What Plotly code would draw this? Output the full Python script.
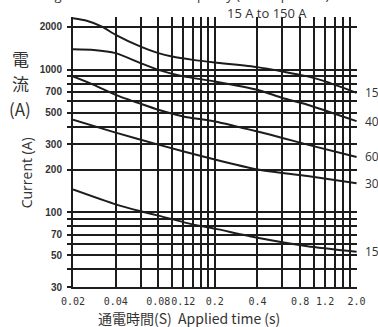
import math
import plotly.graph_objects as go

# ---- data ----
t150 = [0.02, 0.025, 0.032, 0.04, 0.06, 0.08, 0.1, 0.14, 0.2, 0.4, 0.6, 0.9, 1.2, 2.0]
i150 = [2300, 2210, 2010, 1760, 1455, 1310, 1240, 1175, 1125, 1045, 975, 900, 830, 690]

t40 = [0.02, 0.028, 0.04, 0.06, 0.08, 0.12, 0.2, 0.4, 0.6, 0.9, 2.0]
i40 = [1395, 1380, 1310, 1115, 1000, 900, 830, 725, 635, 570, 437]

t60 = [0.02, 0.028, 0.04, 0.06, 0.08, 0.12, 0.2, 0.4, 0.6, 0.9, 2.0]
i60 = [898, 785, 668, 578, 525, 471, 435, 370, 333, 299, 245]

t30 = [0.02, 0.04, 0.08, 0.2, 0.4, 0.9, 2.0]
i30 = [447, 363, 299, 235, 200, 180, 160]

t15 = [0.02, 0.04, 0.06, 0.08, 0.14, 0.2, 0.4, 0.9, 2.0]
i15 = [145, 114, 102, 95, 82.5, 77, 66.5, 58, 53]

series = [
    ("150 A", t150, i150),
    ("40 A", t40, i40),
    ("60 A", t60, i60),
    ("30 A", t30, i30),
    ("15 A", t15, i15),
]

x_grid = [0.02, 0.04, 0.06, 0.08, 0.10, 0.12, 0.14, 0.16, 0.18, 0.2,
          0.4, 0.6, 0.8, 1.0, 1.2, 1.4, 1.6, 1.8, 2.0]
x_labels = {0.02: "0.02", 0.04: "0.04", 0.08: "0.08", 0.12: "0.12", 0.2: "0.2",
            0.4: "0.4", 0.8: "0.8", 1.2: "1.2", 2.0: "2.0"}
y_grid = [30, 40, 50, 60, 70, 80, 90, 100, 200, 300, 400, 500, 600, 700, 800, 900, 1000, 2000]
y_labels = {30: "30", 50: "50", 70: "70", 100: "100", 200: "200", 300: "300",
            500: "500", 700: "700", 1000: "1000", 2000: "2000"}

INK = "#1c1c1c"

fig = go.Figure()
for name, t, v in series:
    fig.add_trace(go.Scatter(x=t, y=v, mode="lines", name=name,
                             line=dict(color=INK, width=2, shape="spline", smoothing=0.6),
                             showlegend=False, hoverinfo="skip"))

fig.update_layout(
    width=378, height=327,
    margin=dict(l=73, r=19, t=17, b=40),
    paper_bgcolor="white", plot_bgcolor="white",
    showlegend=False,
)

fig.update_xaxes(
    type="log",
    range=[math.log10(0.02), math.log10(2.0) + 0.003],
    tickvals=x_grid,
    ticktext=[x_labels.get(v, "") for v in x_grid],
    tickangle=0,
    ticks="", showgrid=True, gridcolor=INK, gridwidth=1.5,
    showline=True, linecolor=INK, linewidth=2,
    tickfont=dict(family="DejaVu Sans Mono", size=10, color="#333"),
    ticklabelstandoff=4,
    zeroline=False,
)
fig.update_yaxes(
    type="log",
    range=[math.log10(30), math.log10(2348)],
    tickvals=y_grid,
    ticktext=[y_labels.get(v, "") for v in y_grid],
    ticks="outside", ticklen=4, tickwidth=1.5, tickcolor=INK,
    showgrid=True, gridcolor=INK, gridwidth=1.5,
    showline=True, linecolor=INK, linewidth=2,
    tickfont=dict(family="Liberation Sans", size=10, color="#333", weight="bold"),
    ticklabelstandoff=3,
    zeroline=False,
)

# right-side curve labels (cut by the image edge, as in the reference)
for name, t, v in series:
    fig.add_annotation(text=name, xref="paper", x=1.0, xshift=6, xanchor="left",
                       yref="y", y=math.log10(v[-1]), yanchor="middle",
                       showarrow=False,
                       font=dict(family="Open Sans", size=12, color="#333"))

# titles
fig.add_annotation(text="Surge current withstand capacity (non-repetitive)",
                   xref="paper", x=(334 - 73) / 286, xanchor="right",
                   yref="paper", y=(287 + 5) / 270, yanchor="middle",
                   showarrow=False, font=dict(family="Open Sans", size=13, color="#333"))
fig.add_annotation(text="15 A to 150 A",
                   xref="paper", x=(268 - 73) / 286, xanchor="center",
                   yref="paper", y=(287 - 13) / 270, yanchor="middle",
                   showarrow=False, font=dict(family="Open Sans", size=13, color="#333"))
fig.add_annotation(text="通電時間(S)  Applied time (s)",
                   xref="paper", x=(190 - 73) / 286, xanchor="center",
                   yref="paper", y=(287 - 318) / 270, yanchor="middle",
                   showarrow=False, font=dict(family="Noto Sans CJK JP", size=14, color="#333"))
fig.add_annotation(text="Current (A)", textangle=-90,
                   xref="paper", x=(27 - 73) / 286, xanchor="center",
                   yref="paper", y=(287 - 173) / 270, yanchor="middle",
                   showarrow=False, font=dict(family="Open Sans", size=14, color="#333"))
for txt, py in [("電", 58), ("流", 83), ("(A)", 108)]:
    fig.add_annotation(text=txt,
                       xref="paper", x=(20 - 73) / 286, xanchor="center",
                       yref="paper", y=(287 - py) / 270, yanchor="middle",
                       showarrow=False, font=dict(family="Noto Sans CJK JP", size=17, color="#333"))

fig.write_html("out.html")
